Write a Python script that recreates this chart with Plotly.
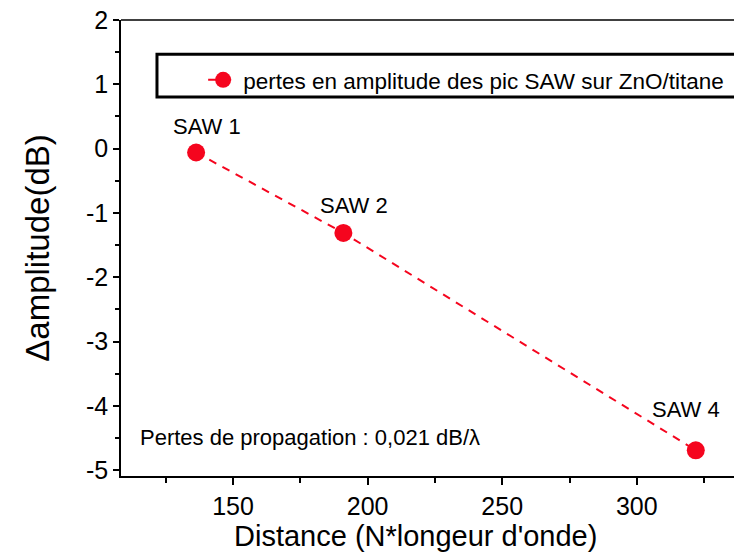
import plotly.graph_objects as go

# Measured amplitude losses of the SAW peaks
distance = [136.3, 191.0, 321.9]
delta_amp = [-0.06, -1.31, -4.69]
peak_labels = ["SAW 1", "SAW 2", "SAW 4"]
label_shift_x = [11, 11, -10]
label_shift_y = [26, 27, 41]

x_ticks = [150, 200, 250, 300]
y_ticks = [-5, -4, -3, -2, -1, 0, 1, 2]
y_tick_text = ["-5", "-4", "-3", "-2", "-1", "0", "1", "2"]

RED = "#f5051e"
FONT = "Arial, Liberation Sans, sans-serif"

fig = go.Figure()
fig.add_trace(go.Scatter(
    x=distance, y=delta_amp,
    mode="lines+markers",
    name="pertes en amplitude des pic SAW sur ZnO/titane",
    line=dict(color=RED, width=2, dash="8px,7px"),
    marker=dict(color=RED, size=18),
))

for xv, yv, txt, sx, sy in zip(distance, delta_amp, peak_labels, label_shift_x, label_shift_y):
    fig.add_annotation(x=xv, y=yv, text=txt, showarrow=False,
                       xshift=sx, yshift=sy,
                       font=dict(size=22, color="black", family=FONT))

fig.add_annotation(xref="paper", yref="paper", x=0.028, y=0.085,
                   xanchor="left", yanchor="middle", showarrow=False,
                   text="Pertes de propagation : 0,021 dB/λ",
                   font=dict(size=22, color="black", family=FONT))

# x-axis title
fig.add_annotation(xref="paper", yref="paper", x=0.48, y=-0.132,
                   xanchor="center", yanchor="middle", showarrow=False,
                   text="Distance (N*longeur d'onde)",
                   font=dict(size=29, color="black", family=FONT))

# legend frame and top border line
fig.add_shape(type="rect", xref="paper", yref="paper",
              x0=0.0587, x1=1.05, y0=0.831, y1=0.925,
              line=dict(color="black", width=3), fillcolor="rgba(0,0,0,0)")
fig.add_shape(type="line", xref="paper", yref="paper",
              x0=0, x1=1, y0=1, y1=1,
              line=dict(color="black", width=1.5))

axis_common = dict(
    showline=True, linecolor="black", linewidth=1.5,
    ticks="outside", tickcolor="black", tickwidth=1.5,
    showgrid=False, zeroline=False,
    tickfont=dict(size=25, color="black", family=FONT),
)

fig.update_xaxes(
    range=[108.4, 336.1], tickvals=x_ticks, ticklen=7,
    minor=dict(dtick=25, tick0=0, ticks="outside", ticklen=5, tickcolor="black", tickwidth=1.5),
    **axis_common,
)
fig.update_yaxes(
    range=[-5.09, 2.0], tickvals=y_ticks, ticktext=y_tick_text, ticklen=6,
    minor=dict(dtick=0.5, tick0=0, ticks="outside", ticklen=4, tickcolor="black", tickwidth=1.5),
    title=dict(text="Δamplitude(dB)", font=dict(size=33, color="black", family=FONT), standoff=26),
    **axis_common,
)

fig.update_layout(
    width=734, height=554,
    margin=dict(l=121, r=0, t=20, b=78),
    paper_bgcolor="white", plot_bgcolor="white",
    showlegend=True,
    legend=dict(x=0.134, y=0.868, xanchor="left", yanchor="middle",
                bgcolor="rgba(0,0,0,0)", borderwidth=0,
                font=dict(size=22.5, color="black", family=FONT)),
)

fig.write_html("out.html")
